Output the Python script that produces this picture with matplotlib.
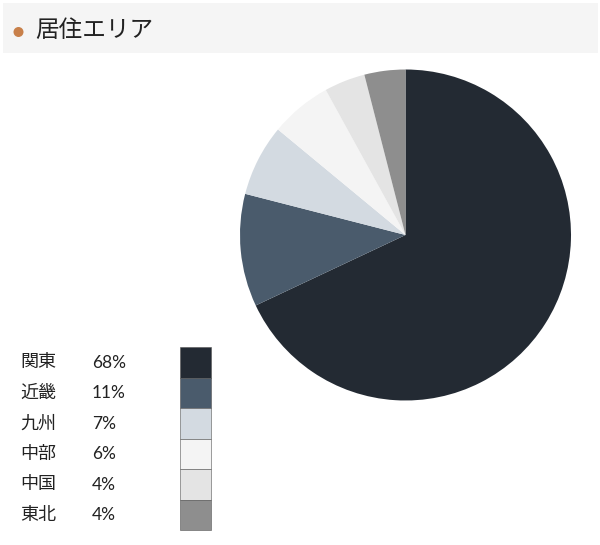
import matplotlib
matplotlib.use("Agg")
import matplotlib.pyplot as plt
from matplotlib.patches import Rectangle, Circle

plt.rcParams['font.family'] = ['Noto Sans CJK JP', 'DejaVu Sans']

title = "居住エリア"
regions = ["関東", "近畿", "九州", "中部", "中国", "東北"]
shares = [68, 11, 7, 6, 4, 4]
colors = ["#232a33", "#4a5b6c", "#d3dae1", "#f4f4f4", "#e4e4e4", "#8e8e8e"]

W, H = 600, 545
fig = plt.figure(figsize=(W / 100, H / 100), dpi=100)

# background / overlay axes in pixel coordinates
bg = fig.add_axes([0, 0, 1, 1])
bg.set_xlim(0, W)
bg.set_ylim(H, 0)
bg.axis("off")

# header band
bg.add_patch(Rectangle((3, 3), 595, 50, facecolor="#f5f5f5", edgecolor="none"))
bg.add_patch(Circle((18.5, 32), 5, facecolor="#c8804a", edgecolor="none"))
bg.text(35, 30, title, fontsize=17, va="center", ha="left", color="#222222")

# pie
cx, cy, r = 405.5, 235, 165.5
pax = fig.add_axes([(cx - r) / W, 1 - (cy + r) / H, 2 * r / W, 2 * r / H])
pax.pie(shares, colors=colors, startangle=90, counterclock=False,
        wedgeprops=dict(linewidth=0))
pax.set_xlim(-1, 1)
pax.set_ylim(-1, 1)
pax.set_aspect("equal")
pax.axis("off")

# legend table
top, row_h = 347, 30.5
for i, (name, val, col) in enumerate(zip(regions, shares, colors)):
    yc = top + row_h * (i + 0.5)
    bg.text(20.5, yc, name, fontsize=13, va="center", ha="left", color="#222222")
    bg.text(92, yc + 0.5, f"{val}%", fontsize=12.5, va="center", ha="left", color="#222222",
            family=["Lato", "DejaVu Sans"])
    bg.add_patch(Rectangle((179.5, top + row_h * i), 31, row_h,
                           facecolor=col, edgecolor="#555555", linewidth=0.4))

fig.savefig("out.png", dpi=100)
